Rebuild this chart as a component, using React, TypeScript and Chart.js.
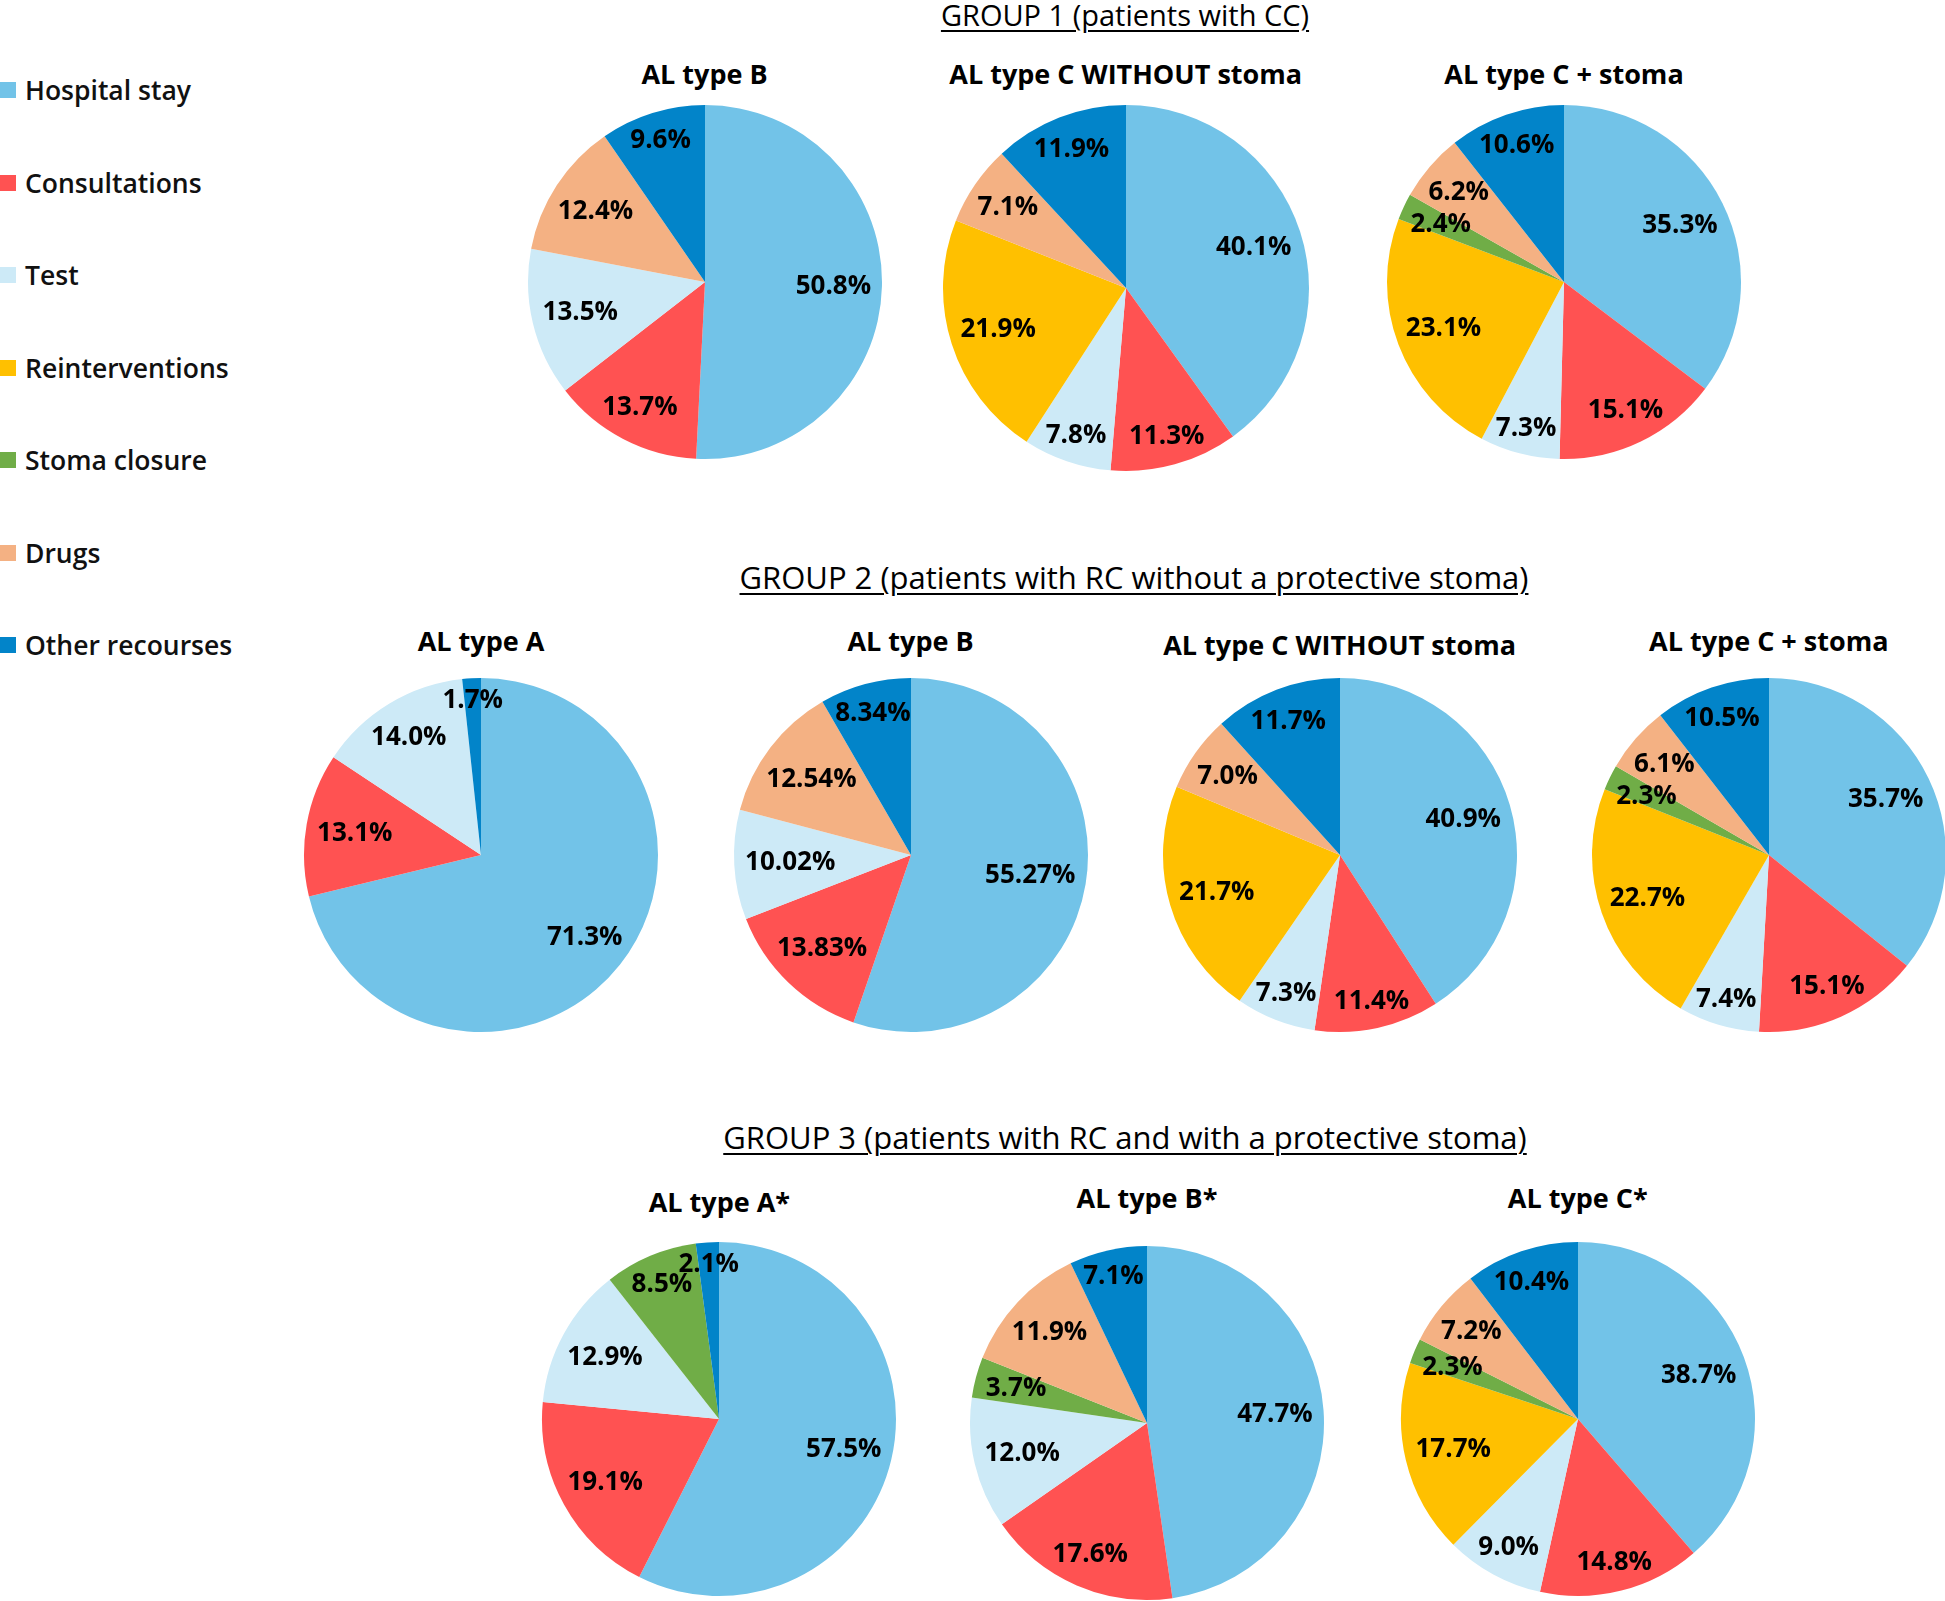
import React, { useEffect, useRef } from 'react';
import { Chart, registerables } from 'chart.js';

Chart.register(...registerables);

// ---------- DATA ----------
const categories = [
  'Hospital stay',
  'Consultations',
  'Test',
  'Reinterventions',
  'Stoma closure',
  'Drugs',
  'Other recourses',
];

// order: Hospital stay, Consultations, Test, Reinterventions, Stoma closure, Drugs, Other recourses
const g1TypeB = [50.8, 13.7, 13.5, 0, 0, 12.4, 9.6];
const g1TypeCNoStoma = [40.1, 11.3, 7.8, 21.9, 0, 7.1, 11.9];
const g1TypeCStoma = [35.3, 15.1, 7.3, 23.1, 2.4, 6.2, 10.6];

const g2TypeA = [71.3, 13.1, 14.0, 0, 0, 0, 1.7];
const g2TypeB = [55.27, 13.83, 10.02, 0, 0, 12.54, 8.34];
const g2TypeCNoStoma = [40.9, 11.4, 7.3, 21.7, 0, 7.0, 11.7];
const g2TypeCStoma = [35.7, 15.1, 7.4, 22.7, 2.3, 6.1, 10.5];

const g3TypeA = [57.5, 19.1, 12.9, 0, 8.5, 0, 2.1];
const g3TypeB = [47.7, 17.6, 12.0, 0, 3.7, 11.9, 7.1];
const g3TypeC = [38.7, 14.8, 9.0, 17.7, 2.3, 7.2, 10.4];

const groupTitles = [
  'GROUP 1 (patients with CC)',
  'GROUP 2 (patients with RC without a protective stoma)',
  'GROUP 3 (patients with RC and with a protective stoma)',
];

// ---------- STYLE / LAYOUT ----------
const sliceColors = ['#72C3E8', '#FF5252', '#CDEAF7', '#FFC000', '#70AD47', '#F4B183', '#0284C9'];
const FONT = '"Open Sans", "Noto Sans", "DejaVu Sans", sans-serif';

type PieSpec = {
  title: string;
  values: number[];
  decimals: number;
  cx: number;
  cy: number;
  r: number;
  ty: number;
};

const pies: PieSpec[] = [
  { title: 'AL type B', values: g1TypeB, decimals: 1, cx: 704.5, cy: 281.6, r: 177, ty: 74 },
  { title: 'AL type C WITHOUT stoma', values: g1TypeCNoStoma, decimals: 1, cx: 1125.7, cy: 287.8, r: 183, ty: 74 },
  { title: 'AL type C + stoma', values: g1TypeCStoma, decimals: 1, cx: 1564, cy: 281.6, r: 177, ty: 74 },
  { title: 'AL type A', values: g2TypeA, decimals: 1, cx: 481, cy: 854.6, r: 177, ty: 641 },
  { title: 'AL type B', values: g2TypeB, decimals: 2, cx: 910.5, cy: 854.6, r: 177, ty: 641 },
  { title: 'AL type C WITHOUT stoma', values: g2TypeCNoStoma, decimals: 1, cx: 1339.6, cy: 854.6, r: 177, ty: 645 },
  { title: 'AL type C + stoma', values: g2TypeCStoma, decimals: 1, cx: 1768.8, cy: 854.6, r: 177, ty: 641 },
  { title: 'AL type A*', values: g3TypeA, decimals: 1, cx: 719.4, cy: 1419, r: 177, ty: 1202 },
  { title: 'AL type B*', values: g3TypeB, decimals: 1, cx: 1147, cy: 1422.7, r: 177, ty: 1198 },
  { title: 'AL type C*', values: g3TypeC, decimals: 1, cx: 1577.8, cy: 1419, r: 177, ty: 1198 },
];

const groupTitleLayout = [
  { x: 1125, y: 15, size: 29 },
  { x: 1134, y: 577, size: 31 },
  { x: 1125, y: 1137, size: 31 },
];

const legendY = [89.5, 182.5, 275, 368, 460, 553, 645];

const LABEL_FONT_SIZE = 26;
const PAD = 3;

const labelPlugin = {
  id: 'sliceLabels',
  afterDatasetsDraw(chart: any, _args: any, opts: any) {
    const ctx = chart.ctx as CanvasRenderingContext2D;
    const meta = chart.getDatasetMeta(0);
    const ds = chart.data.datasets[0];
    const decimals: number = opts.decimals ?? 1;
    ctx.save();
    ctx.font = `bold ${LABEL_FONT_SIZE}px ${FONT}`;
    ctx.fillStyle = '#000';
    ctx.textAlign = 'center';
    ctx.textBaseline = 'middle';
    meta.data.forEach((arc: any, i: number) => {
      const v = ds.data[i] as number;
      if (!v) return;
      const p = arc.getProps(['x', 'y', 'startAngle', 'endAngle', 'outerRadius'], true);
      const a = (p.startAngle + p.endAngle) / 2;
      const ux = Math.cos(a);
      const uy = Math.sin(a);
      const text = v.toFixed(decimals) + '%';
      const hw = ctx.measureText(text).width / 2;
      const hh = 6;
      const k = 0.94 * p.outerRadius;
      const B = Math.abs(ux) * hw + Math.abs(uy) * hh;
      const C = hw * hw + hh * hh - k * k;
      const d = -B + Math.sqrt(Math.max(0, B * B - C));
      ctx.fillText(text, p.x + ux * d, p.y + uy * d + 1);
    });
    ctx.restore();
  },
};

function PieChart({ spec }: { spec: PieSpec }) {
  const ref = useRef<HTMLCanvasElement | null>(null);
  useEffect(() => {
    if (!ref.current) return;
    const chart = new Chart(ref.current, {
      type: 'pie',
      data: {
        labels: categories,
        datasets: [
          {
            data: spec.values,
            backgroundColor: sliceColors,
            borderWidth: 0,
          },
        ],
      },
      options: {
        responsive: false,
        animation: false,
        layout: { padding: PAD },
        plugins: {
          legend: { display: false },
          tooltip: { enabled: false },
          title: { display: false },
          sliceLabels: { decimals: spec.decimals },
        } as any,
      },
      plugins: [labelPlugin],
    });
    return () => chart.destroy();
  }, [spec]);
  const size = 2 * (spec.r + PAD);
  return (
    <>
      <canvas
        ref={ref}
        width={size}
        height={size}
        style={{
          position: 'absolute',
          left: spec.cx - spec.r - PAD,
          top: spec.cy - spec.r - PAD,
          width: size,
          height: size,
        }}
      />
      <div
        style={{
          position: 'absolute',
          left: spec.cx - 300,
          width: 600,
          top: spec.ty - 18,
          height: 36,
          lineHeight: '36px',
          textAlign: 'center',
          fontFamily: FONT,
          fontWeight: 700,
          fontSize: 27,
          color: '#000',
          whiteSpace: 'nowrap',
        }}
      >
        {spec.title}
      </div>
    </>
  );
}

export default function App() {
  return (
    <div
      style={{
        position: 'absolute',
        left: 0,
        top: 0,
        width: 1945,
        height: 1601,
        background: '#fff',
        overflow: 'hidden',
      }}
    >
      {groupTitles.map((t, i) => (
        <div
          key={t}
          style={{
            position: 'absolute',
            left: groupTitleLayout[i].x - 600,
            width: 1200,
            top: groupTitleLayout[i].y - 20,
            height: 40,
            lineHeight: '40px',
            textAlign: 'center',
            fontFamily: FONT,
            fontSize: groupTitleLayout[i].size,
            color: '#000',
            textDecoration: 'underline',
            textDecorationThickness: 2,
            textUnderlineOffset: 4,
            whiteSpace: 'nowrap',
          }}
        >
          {t}
        </div>
      ))}
      {categories.map((c, i) => (
        <div key={c}>
          <div
            style={{
              position: 'absolute',
              left: 0,
              top: legendY[i] - 8,
              width: 16,
              height: 16,
              background: sliceColors[i],
            }}
          />
          <div
            style={{
              position: 'absolute',
              left: 25,
              top: legendY[i] - 18,
              height: 36,
              lineHeight: '36px',
              fontFamily: FONT,
              fontWeight: 600,
              fontSize: 26.5,
              color: '#111',
              whiteSpace: 'nowrap',
            }}
          >
            {c}
          </div>
        </div>
      ))}
      {pies.map((p, i) => (
        <PieChart key={i} spec={p} />
      ))}
    </div>
  );
}
